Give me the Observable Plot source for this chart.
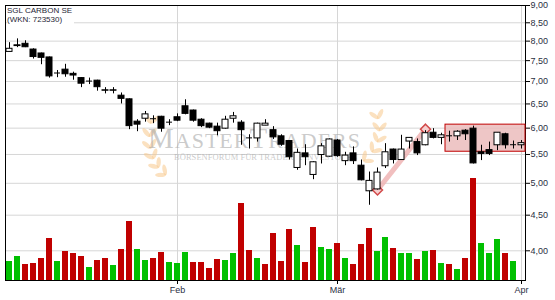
<!DOCTYPE html>
<html><head><meta charset="utf-8">
<script src="https://cdn.jsdelivr.net/npm/d3@7"></script>
<script src="https://cdn.jsdelivr.net/npm/@observablehq/plot@0.6"></script>
<style>
body{margin:0;background:#fff;}
#wrap{position:relative;width:555px;height:300px;overflow:hidden;font-family:Arial,"Liberation Sans",sans-serif;}
#wrap svg{position:absolute;left:0;top:0;overflow:visible;}
.title{position:absolute;left:7px;top:6px;font-size:8px;line-height:9px;color:#1e2535;background:#fff;padding:0 2px 1px 0;}
</style></head><body><div id="wrap"></div>
<script>
// ---- data ----
const title = "SGL CARBON SE";
const subtitle = "(WKN: 723530)";
const watermark = "MASTERTRADERS";
const watermarkSub = "BÖRSENFORUM FÜR TRADER & INVESTOREN";
const opens  = [7.72,7.89,7.93,7.78,7.68,7.58,7.20,7.28,7.18,7.08, 7.01,7.02,6.80,6.80,6.68,6.60,6.13,6.19,6.19,6.23, 6.12,6.22,6.45,6.36,6.17,6.09,6.03,5.99,6.19,6.11, 5.81,5.80,6.05,5.96,5.84,5.75,5.26,5.52,5.14,5.49, 5.46,5.76,5.38,5.52,5.30,4.87,4.90,5.29,5.59,5.40, 5.74,5.73,5.67,5.91,5.81,5.85,5.84,5.95,5.99,5.54, 5.58,5.67,5.88,5.68,5.67];
const highs  = [7.96,8.06,8.01,7.80,7.69,7.59,7.26,7.41,7.22,7.09, 7.08,7.03,6.86,6.86,6.74,6.61,6.17,6.34,6.25,6.24, 6.17,6.29,6.59,6.37,6.19,6.10,6.10,6.24,6.32,6.15, 5.87,6.10,6.17,6.03,5.87,5.76,5.60,5.68,5.37,5.70, 5.79,5.78,5.54,5.64,5.40,5.19,5.26,5.70,5.60,5.86, 5.81,5.79,5.95,5.99,5.90,5.94,5.95,5.97,6.04,5.67, 5.73,5.91,5.90,5.75,5.76];
const lows   = [7.72,7.83,7.83,7.54,7.40,7.08,7.09,7.10,7.03,6.86, 6.93,6.78,6.72,6.72,6.50,5.97,5.93,6.12,6.09,5.92, 6.05,6.13,6.27,6.12,6.01,5.99,5.85,5.98,6.10,5.67, 5.60,5.73,6.05,5.78,5.65,5.40,5.22,5.30,5.06,5.33, 5.45,5.45,5.30,5.32,5.04,4.65,4.89,5.25,5.33,5.40, 5.60,5.48,5.66,5.79,5.68,5.73,5.76,5.76,5.33,5.39, 5.48,5.57,5.60,5.60,5.60];
const closes = [7.80,7.87,7.84,7.59,7.57,7.12,7.20,7.17,7.14,6.95, 7.01,6.87,6.79,6.79,6.61,6.04,6.07,6.28,6.19,5.99, 6.12,6.15,6.29,6.15,6.04,6.01,5.94,6.17,6.24,5.96, 5.81,6.09,6.09,5.82,5.68,5.45,5.53,5.45,5.36,5.65, 5.78,5.47,5.48,5.38,5.05,5.04,5.18,5.54,5.40,5.59, 5.81,5.52,5.90,5.81,5.86,5.85,5.93,5.88,5.34,5.51, 5.51,5.91,5.67,5.68,5.71];
// volume in thousand shares (arbitrary units)
const volumes = [19,24,16,17,22,42,19,29,27,24, 13,20,22,15,31,59,31,20,22,28, 18,17,28,18,18,12,21,20,27,77, 30,22,16,47,19,51,35,18,53,33, 31,37,22,16,36,52,29,43,32,27, 27,21,29,30,17,16,11,22,102,37, 27,41,27,19];
// 1 = close above previous close (green), 0 = below (red)
const volumeUp = [1,1,0,0,0,0,1,0,0,0, 1,0,0,1,0,0,1,1,0,0, 1,1,1,0,0,0,0,1,1,0, 0,1,0,0,0,0,1,0,0,1, 1,0,1,0,0,0,1,1,0,1, 1,0,1,0,1,0,1,0,0,1, 1,1,0,1];
const priceTicks = [4,4.5,5,5.5,6,6.5,7,7.5,8,8.5,9];
const monthTicks = [21,41,64];
const monthLabels = ["Feb","Mär","Apr"];
const trendX = [46,52];
const trendY = [4.89,5.98];
const boxX = [54.5,64.5];
const boxY = [5.55,6.07];

// ---- layout ----
const W=555,H=300,mL=5,mR=30,mT=5,mB=20;
const xDomain=[-0.5,64.5];
const yPrice={type:"log",domain:[3.626,9],axis:null};
const common={width:W,height:H,marginLeft:mL,marginRight:mR,marginTop:mT,marginBottom:mB,
  style:{fontFamily:"Arial,'Liberation Sans',sans-serif",fontSize:"9px",color:"#222",background:"transparent",overflow:"visible"}};
const wrap=document.getElementById("wrap");

const candles=opens.map((o,i)=>({i,o,h:highs[i],l:lows[i],c:closes[i]}));
const bars=volumes.map((v,i)=>({i,v,up:volumeUp[i]}));
const fmt=d=>d.toFixed(2).replace(".",",");

// layer 0: grid, frame, axes
const base=Plot.plot({...common,
  x:{domain:xDomain,axis:null},
  y:yPrice,
  marks:[
    Plot.ruleY(priceTicks,{stroke:"#d6d6d6"}),
    Plot.ruleX(monthTicks,{stroke:"#d6d6d6"}),
    Plot.frame({stroke:"#000"}),
    Plot.axisY(priceTicks,{anchor:"right",tickSize:4,tickPadding:1,tickFormat:fmt,stroke:"#000",fill:"#2a2f3f"}),
    Plot.axisX(monthTicks,{anchor:"bottom",tickSize:4,tickPadding:2,tickFormat:d=>monthLabels[monthTicks.indexOf(d)],stroke:"#000",fill:"#2a2f3f"})
  ]});
wrap.appendChild(base);

// watermark (logo decoration)
const NS="http://www.w3.org/2000/svg";
const wm=document.createElementNS(NS,"svg");
wm.setAttribute("width",W);wm.setAttribute("height",H);
function leaves(g,x0,y0,cx,cy,x1,y1,n,flip){
  for(let k=0;k<n;k++){
    const t=(k+0.5)/n, u=1-t;
    const px=u*u*x0+2*u*t*cx+t*t*x1, py=u*u*y0+2*u*t*cy+t*t*y1;
    const dx=2*u*(cx-x0)+2*t*(x1-cx), dy=2*u*(cy-y0)+2*t*(y1-cy);
    const ang=Math.atan2(dy,dx)*180/Math.PI;
    for(const s of [-1,1]){
      const e=document.createElementNS(NS,"ellipse");
      e.setAttribute("cx",0);e.setAttribute("cy",0);e.setAttribute("rx",5.5);e.setAttribute("ry",2.2);
      e.setAttribute("fill","#f7c98c");e.setAttribute("fill-opacity","0.55");
      e.setAttribute("transform",`translate(${px},${py}) rotate(${ang+s*40*flip}) translate(5,0)`);
      g.appendChild(e);
    }
  }
}
const gl=document.createElementNS(NS,"g");
leaves(gl,170,178,142,160,152,116,6,1);
leaves(gl,358,165,388,145,376,112,5,-1);
wm.appendChild(gl);
const t1=document.createElementNS(NS,"text");
t1.setAttribute("x",148);t1.setAttribute("y",148);
t1.setAttribute("font-family","'Liberation Serif','DejaVu Serif',serif");
t1.setAttribute("font-size",22);t1.setAttribute("fill","#a8a8a8");t1.setAttribute("fill-opacity","0.6");
t1.setAttribute("textLength",212);t1.setAttribute("lengthAdjust","spacing");
t1.innerHTML=`<tspan font-size="29">${watermark[0]}</tspan>${watermark.slice(1,6)}<tspan font-size="29">${watermark[6]}</tspan>${watermark.slice(7)}`;
wm.appendChild(t1);
const t2=document.createElementNS(NS,"text");
t2.setAttribute("x",174);t2.setAttribute("y",160);
t2.setAttribute("font-family","'Liberation Serif','DejaVu Serif',serif");
t2.setAttribute("font-size",8.5);t2.setAttribute("fill","#a8a8a8");t2.setAttribute("fill-opacity","0.6");
t2.setAttribute("textLength",184);t2.setAttribute("lengthAdjust","spacing");
t2.textContent=watermarkSub;
wm.appendChild(t2);
wrap.appendChild(wm);

// layer 1: volume
const vol=Plot.plot({...common,
  x:{domain:xDomain,axis:null},
  y:{domain:[0,275],axis:null},
  marks:[
    Plot.rect(bars.filter(d=>d.up),{x1:d=>d.i-0.375,x2:d=>d.i+0.375,y1:0,y2:"v",fill:"#00c000"}),
    Plot.rect(bars.filter(d=>!d.up),{x1:d=>d.i-0.375,x2:d=>d.i+0.375,y1:0,y2:"v",fill:"#c00000"})
  ]});
wrap.appendChild(vol);

// layer 2: patterns + candles
const trend=trendX.map((x,k)=>({x,y:trendY[k]}));
const upC=candles.filter(d=>d.c>d.o), dnC=candles.filter(d=>d.c<d.o), doji=candles.filter(d=>d.c===d.o);
const price=Plot.plot({...common,
  x:{domain:xDomain,axis:null},
  y:yPrice,
  marks:[
    Plot.rect([{}],{x1:boxX[0],x2:boxX[1],y1:boxY[0],y2:boxY[1],fill:"#ebbcbc",fillOpacity:0.85,stroke:"#c00000"}),
    Plot.line(trend,{x:"x",y:"y",stroke:"#eeb4b4",strokeWidth:5,strokeOpacity:0.85}),
    Plot.dot(trend,{x:"x",y:"y",symbol:"diamond2",r:4.5,stroke:"#d24a4a",strokeWidth:1.5,fill:"#f6d0d0"}),
    Plot.ruleX(candles,{x:"i",y1:"l",y2:"h",stroke:"#000"}),
    Plot.rect(upC,{x1:d=>d.i-0.375,x2:d=>d.i+0.375,y1:"o",y2:"c",fill:"#fff",stroke:"#000"}),
    Plot.rect(dnC,{x1:d=>d.i-0.375,x2:d=>d.i+0.375,y1:"o",y2:"c",fill:"#000",stroke:"#000"}),
    Plot.ruleY(doji,{x1:d=>d.i-0.375,x2:d=>d.i+0.375,y:"c",stroke:"#000"})
  ]});
wrap.appendChild(price);

// title
const t=document.createElement("div");
t.className="title";
t.innerHTML=title+"<br>"+subtitle;
wrap.appendChild(t);
</script></body></html>
